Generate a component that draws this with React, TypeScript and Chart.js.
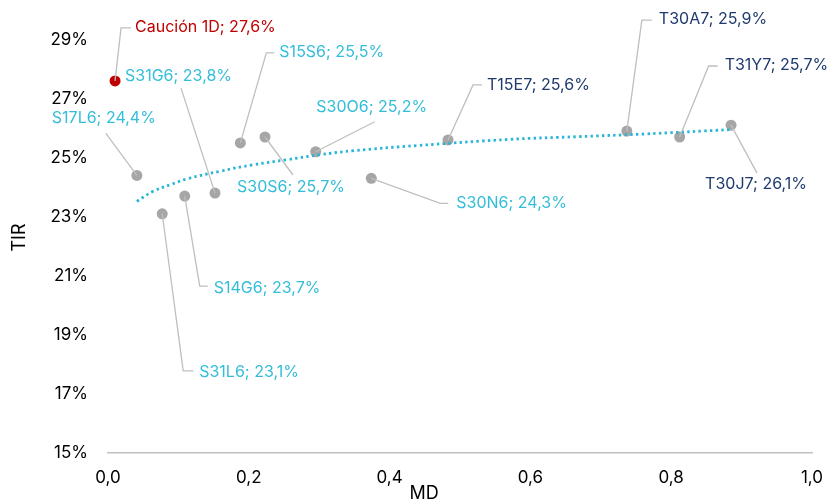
import React, { useEffect, useRef } from "react";
import { Chart, registerables } from "chart.js";

Chart.register(...registerables);

// ---- data ----
const NAMES = ["Caución 1D", "S17L6", "S31L6", "S14G6", "S31G6", "S15S6", "S30S6", "S30O6", "S30N6", "T15E7", "T30A7", "T31Y7", "T30J7"];
const MD = [0.01, 0.041, 0.077, 0.109, 0.152, 0.188, 0.223, 0.295, 0.374, 0.483, 0.737, 0.812, 0.885];
const TIR = [27.6, 24.4, 23.1, 23.7, 23.8, 25.5, 25.7, 25.2, 24.3, 25.6, 25.9, 25.7, 26.1];
const GROUP = ["caucion", "lecap", "lecap", "lecap", "lecap", "lecap", "lecap", "lecap", "lecap", "boncap", "boncap", "boncap", "boncap"];

// trend line
const TREND_X = [0.041, 0.064, 0.088, 0.112, 0.159, 0.206, 0.254, 0.301, 0.35, 0.439, 0.571, 0.666, 0.76, 0.884];
const TREND_Y = [23.52, 23.86, 24.08, 24.28, 24.54, 24.76, 24.93, 25.1, 25.24, 25.41, 25.62, 25.71, 25.8, 25.95];

const Y_TICKS = [15, 17, 19, 21, 23, 25, 27, 29];
const X_TITLE = "MD";
const Y_TITLE = "TIR";

// ---- styles ----
const FONT = "Inter, 'Noto Sans', sans-serif";
const LABEL_COLORS: Record<string, string> = { caucion: "#C00000", lecap: "#33BDD9", boncap: "#1F3A6E" };
const POINT_COLORS: Record<string, string> = { caucion: "#C00000", lecap: "#A6A6A6", boncap: "#A6A6A6" };

// label placement (pixel offsets from the point): leader end (lx,ly), elbow length, text pos, align
const LABEL_LAYOUT = [
  { lx: 6, ly: -53, elbow: 10, tx: 20, ty: -54, align: "left" },
  { lx: -31, ly: -42, elbow: 0, tx: -33, ty: -57, align: "center" },
  { lx: 21, ly: 157, elbow: 10, tx: 37, ty: 158, align: "left" },
  { lx: 15, ly: 90, elbow: 8, tx: 29, ty: 92, align: "left" },
  { lx: -34, ly: -105, elbow: 0, tx: -90, ty: -117, align: "left" },
  { lx: 26, ly: -90, elbow: 8, tx: 39, ty: -91, align: "left" },
  { lx: 28, ly: 38, elbow: 0, tx: 26, ty: 50, align: "center" },
  { lx: 59, ly: -30, elbow: 0, tx: 56, ty: -45, align: "center" },
  { lx: 69, ly: 25, elbow: 8, tx: 85, ty: 25, align: "left" },
  { lx: 25, ly: -55, elbow: 9, tx: 39, ty: -55, align: "left" },
  { lx: 15, ly: -111, elbow: 10, tx: 32, ty: -112, align: "left" },
  { lx: 29, ly: -71, elbow: 9, tx: 45, ty: -72, align: "left" },
  { lx: 26, ly: 48, elbow: 0, tx: 25, ty: 59, align: "center" },
];

const fmt = (v: number, d: number) => v.toFixed(d).replace(".", ",");

const labelPlugin = {
  id: "pointLabels",
  afterDatasetsDraw(chart: any) {
    const meta = chart.getDatasetMeta(1);
    const ctx = chart.ctx;
    ctx.save();
    meta.data.forEach((el: any, i: number) => {
      const L = LABEL_LAYOUT[i];
      const px = el.x, py = el.y;
      ctx.strokeStyle = "#BFBFBF";
      ctx.lineWidth = 1.3;
      ctx.beginPath();
      ctx.moveTo(px, py);
      ctx.lineTo(px + L.lx, py + L.ly);
      if (L.elbow) ctx.lineTo(px + L.lx + L.elbow, py + L.ly);
      ctx.stroke();
      ctx.fillStyle = LABEL_COLORS[GROUP[i]];
      ctx.font = `16px ${FONT}`;
      ctx.textAlign = L.align;
      ctx.textBaseline = "middle";
      ctx.fillText(`${NAMES[i]}; ${fmt(TIR[i], 1)}%`, px + L.tx, py + L.ty);
    });
    ctx.restore();
  },
  afterDraw(chart: any) {
    const ctx = chart.ctx;
    const area = chart.chartArea;
    ctx.save();
    ctx.fillStyle = "#000";
    ctx.font = `18px ${FONT}`;
    ctx.textAlign = "center";
    ctx.textBaseline = "alphabetic";
    ctx.fillText(X_TITLE, 424, 499);
    ctx.translate(25, (area.top + area.bottom) / 2 + 6);
    ctx.rotate(-Math.PI / 2);
    ctx.fillText(Y_TITLE, 0, 0);
    ctx.restore();
  },
};

export default function App() {
  const ref = useRef<HTMLCanvasElement>(null);
  useEffect(() => {
    document.body.style.margin = "0";
    const chart = new Chart(ref.current!, {
      type: "scatter",
      data: {
        datasets: [
          {
            type: "line",
            data: TREND_X.map((x, i) => ({ x, y: TREND_Y[i] })),
            borderColor: "#27B6D5",
            borderWidth: 2.8,
            borderDash: [2.4, 3.3],
            borderCapStyle: "butt",
            pointRadius: 0,
            tension: 0.4,
            fill: false,
            order: 0,
          },
          {
            data: MD.map((x, i) => ({ x, y: TIR[i] })),
            pointRadius: 5.5,
            pointBackgroundColor: GROUP.map((g) => POINT_COLORS[g]),
            pointBorderWidth: 0,
            order: 1,
          } as any,
        ],
      },
      options: {
        animation: false,
        responsive: false,
        layout: { padding: { top: 10, right: 24, left: 0, bottom: 0 } },
        plugins: { legend: { display: false }, tooltip: { enabled: false } },
        scales: {
          x: {
            type: "linear",
            min: 0,
            max: 1,
            grid: { display: false, drawTicks: false },
            border: { display: true, color: "#BFBFBF", width: 1.5 },
            ticks: {
              stepSize: 0.2,
              padding: 15,
              color: "#000",
              font: { family: FONT, size: 17 },
              callback: (v: any) => fmt(Number(v), 1),
            },
            afterFit: (s: any) => { s.height = 49; s.paddingLeft = 0; s.paddingRight = 0; },
          },
          y: {
            type: "linear",
            min: 15,
            max: 30,
            grid: { display: false, drawTicks: false },
            border: { display: false },
            ticks: {
              stepSize: 1,
              autoSkip: false,
              padding: 20,
              color: "#000",
              font: { family: FONT, size: 17 },
              callback: (v: any) => (Y_TICKS.includes(Number(v)) ? `${v}%` : ""),
            },
            afterFit: (s: any) => { s.width = 108; s.paddingTop = 0; s.paddingBottom = 0; },
          },
        },
      },
      plugins: [labelPlugin],
    });
    return () => chart.destroy();
  }, []);
  return (
    <div style={{ width: 836, height: 502 }}>
      <canvas ref={ref} width={836} height={502} />
    </div>
  );
}
